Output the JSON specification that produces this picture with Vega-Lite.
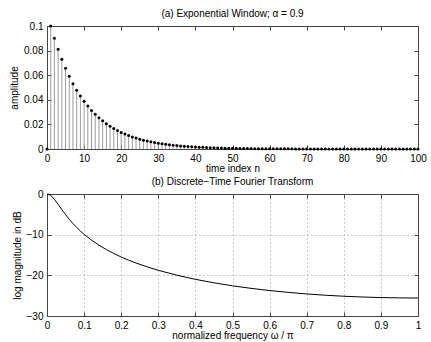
{
  "$schema": "https://vega.github.io/schema/vega-lite/v6.json",
  "padding": {"left": 9, "top": 9, "right": 3, "bottom": 2},
  "spacing": 4,
  "config": {
    "font": "Liberation Sans",
    "view": {"stroke": null},
    "axis": {
      "grid": false,
      "labelFontSize": 10,
      "titleFontSize": 10,
      "titleFontWeight": "normal",
      "labelColor": "#000",
      "titleColor": "#000",
      "domainColor": "#444",
      "tickColor": "#444",
      "tickSize": -4,
      "labelPadding": 8,
      "labelFlush": false,
      "labelOverlap": false
    },
    "title": {"fontSize": 10, "fontWeight": "normal", "offset": 2, "color": "#000"}
  },
  "vconcat": [
    {
      "width": 371,
      "height": 123,
      "title": "(a) Exponential Window; α = 0.9",
      "data": {"values": [
        {"n":0,"a":0},{"n":1,"a":0.1},{"n":2,"a":0.09},{"n":3,"a":0.081},{"n":4,"a":0.0729},{"n":5,"a":0.06561},{"n":6,"a":0.059049},{"n":7,"a":0.0531441},{"n":8,"a":0.04782969},{"n":9,"a":0.043046721},
        {"n":10,"a":0.038742},{"n":11,"a":0.0348678},{"n":12,"a":0.0313811},{"n":13,"a":0.028243},{"n":14,"a":0.0254187},{"n":15,"a":0.0228768},{"n":16,"a":0.0205891},{"n":17,"a":0.0185302},{"n":18,"a":0.0166772},{"n":19,"a":0.0150095},
        {"n":20,"a":0.0135085},{"n":21,"a":0.0121577},{"n":22,"a":0.0109419},{"n":23,"a":0.0098477},{"n":24,"a":0.0088629},{"n":25,"a":0.0079766},{"n":26,"a":0.007179},{"n":27,"a":0.0064611},{"n":28,"a":0.005815},{"n":29,"a":0.0052335},
        {"n":30,"a":0.0047101},{"n":31,"a":0.0042391},{"n":32,"a":0.0038152},{"n":33,"a":0.0034337},{"n":34,"a":0.0030903},{"n":35,"a":0.0027813},{"n":36,"a":0.0025032},{"n":37,"a":0.0022528},{"n":38,"a":0.0020276},{"n":39,"a":0.0018248},
        {"n":40,"a":0.0016423},{"n":41,"a":0.0014781},{"n":42,"a":0.0013303},{"n":43,"a":0.0011973},{"n":44,"a":0.0010775},{"n":45,"a":0.00096977},{"n":46,"a":0.0008728},{"n":47,"a":0.00078552},{"n":48,"a":0.00070697},{"n":49,"a":0.00063627},
        {"n":50,"a":0.00057264},{"n":51,"a":0.00051538},{"n":52,"a":0.00046384},{"n":53,"a":0.00041746},{"n":54,"a":0.00037571},{"n":55,"a":0.00033814},{"n":56,"a":0.00030433},{"n":57,"a":0.00027389},{"n":58,"a":0.0002465},{"n":59,"a":0.00022185},
        {"n":60,"a":0.00019967},{"n":61,"a":0.0001797},{"n":62,"a":0.00016173},{"n":63,"a":0.00014556},{"n":64,"a":0.000131},{"n":65,"a":0.0001179},{"n":66,"a":0.00010611},{"n":67,"a":0.0000955},{"n":68,"a":0.00008595},{"n":69,"a":0.000077355},
        {"n":70,"a":0.00006962},{"n":71,"a":0.000062658},{"n":72,"a":0.000056392},{"n":73,"a":0.000050753},{"n":74,"a":0.000045678},{"n":75,"a":0.00004111},{"n":76,"a":0.000036999},{"n":77,"a":0.000033299},{"n":78,"a":0.000029969},{"n":79,"a":0.000026972},
        {"n":80,"a":0.000024275},{"n":81,"a":0.000021848},{"n":82,"a":0.000019663},{"n":83,"a":0.000017697},{"n":84,"a":0.000015927},{"n":85,"a":0.000014334},{"n":86,"a":0.000012901},{"n":87,"a":0.000011611},{"n":88,"a":0.00001045},{"n":89,"a":0.0000094046},
        {"n":90,"a":0.0000084642},{"n":91,"a":0.0000076177},{"n":92,"a":0.000006856},{"n":93,"a":0.0000061704},{"n":94,"a":0.0000055533},{"n":95,"a":0.000004998},{"n":96,"a":0.0000044982},{"n":97,"a":0.0000040484},{"n":98,"a":0.0000036435},{"n":99,"a":0.0000032792},
        {"n":100,"a":0.0000029513}
      ]},
      "layer": [
        {
          "mark": {"type": "rule", "color": "#9a9a9a", "strokeWidth": 1},
          "encoding": {
            "x": {"field": "n", "type": "quantitative", "scale": {"domain": [0, 100], "nice": false},
                  "axis": {"orient": "bottom", "title": "time index n", "values": [0,10,20,30,40,50,60,70,80,90,100], "titlePadding": 0}},
            "y": {"field": "a", "type": "quantitative", "scale": {"domain": [0, 0.1], "nice": false},
                  "axis": {"orient": "left", "title": "amplitude", "values": [0,0.02,0.04,0.06,0.08,0.1], "format": "~g", "titlePadding": 4}},
            "y2": {"datum": 0}
          }
        },
        {
          "mark": {"type": "point", "filled": true, "color": "#000", "size": 9, "opacity": 1},
          "encoding": {
            "x": {"field": "n", "type": "quantitative", "axis": {"orient": "top", "labels": false, "title": null, "values": [0,10,20,30,40,50,60,70,80,90,100]}},
            "y": {"field": "a", "type": "quantitative", "axis": {"orient": "right", "labels": false, "title": null, "values": [0,0.02,0.04,0.06,0.08,0.1]}}
          }
        }
      ],
      "resolve": {"axis": {"x": "independent", "y": "independent"}}
    },
    {
      "width": 371,
      "height": 122,
      "title": "(b) Discrete−Time Fourier Transform",
      "data": {"values": [
        {"f":0,"db":0},{"f":0.005,"db":-0.095},{"f":0.01,"db":-0.37},{"f":0.015,"db":-0.79},{"f":0.02,"db":-1.32},{"f":0.025,"db":-1.92},{"f":0.03,"db":-2.55},{"f":0.035,"db":-3.2},{"f":0.04,"db":-3.84},{"f":0.045,"db":-4.46},
        {"f":0.05,"db":-5.07},{"f":0.06,"db":-6.22},{"f":0.07,"db":-7.27},{"f":0.08,"db":-8.23},{"f":0.09,"db":-9.11},{"f":0.1,"db":-9.92},{"f":0.12,"db":-11.35},{"f":0.14,"db":-12.58},{"f":0.16,"db":-13.67},{"f":0.18,"db":-14.63},
        {"f":0.2,"db":-15.49},{"f":0.22,"db":-16.26},{"f":0.24,"db":-16.97},{"f":0.27,"db":-17.92},{"f":0.3,"db":-18.76},{"f":0.35,"db":-19.97},{"f":0.4,"db":-20.98},{"f":0.45,"db":-21.84},{"f":0.5,"db":-22.58},{"f":0.55,"db":-23.2},
        {"f":0.6,"db":-23.74},{"f":0.65,"db":-24.19},{"f":0.7,"db":-24.58},{"f":0.75,"db":-24.89},{"f":0.8,"db":-25.14},{"f":0.85,"db":-25.33},{"f":0.9,"db":-25.47},{"f":0.95,"db":-25.55},{"f":1,"db":-25.58}
      ]},
      "layer": [
        {
          "mark": {"type": "line", "color": "#000", "strokeWidth": 1},
          "encoding": {
            "x": {"field": "f", "type": "quantitative", "scale": {"domain": [0, 1], "nice": false},
                  "axis": {"orient": "bottom", "title": "normalized frequency ω / π", "values": [0,0.1,0.2,0.3,0.4,0.5,0.6,0.7,0.8,0.9,1], "format": "~g", "titlePadding": 0,
                           "grid": true, "gridDash": [1, 3], "gridColor": "#999", "gridOpacity": 1}},
            "y": {"field": "db", "type": "quantitative", "scale": {"domain": [-30, 0], "nice": false},
                  "axis": {"orient": "left", "title": "log magnitude in dB", "values": [-30,-20,-10,0], "titlePadding": 4,
                           "grid": true, "gridDash": [1, 3], "gridColor": "#999", "gridOpacity": 1}}
          }
        },
        {
          "mark": {"type": "line", "color": "#000", "strokeOpacity": 0},
          "encoding": {
            "x": {"field": "f", "type": "quantitative", "axis": {"orient": "top", "labels": false, "title": null, "values": [0,0.1,0.2,0.3,0.4,0.5,0.6,0.7,0.8,0.9,1]}},
            "y": {"field": "db", "type": "quantitative", "axis": {"orient": "right", "labels": false, "title": null, "values": [-30,-20,-10,0]}}
          }
        }
      ],
      "resolve": {"axis": {"x": "independent", "y": "independent"}}
    }
  ]
}
